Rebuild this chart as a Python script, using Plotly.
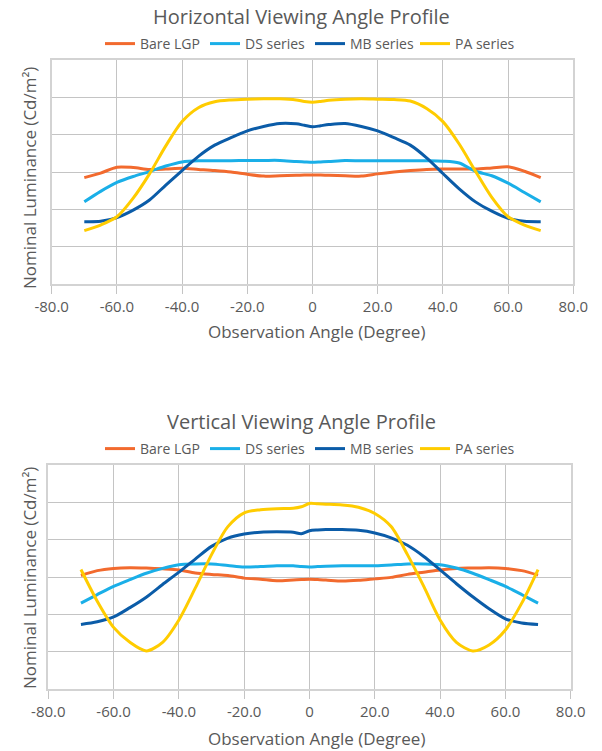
import plotly.graph_objects as go

angles = [-70, -65, -60, -55, -50, -45, -40, -35, -30, -25, -20, -15, -10, -5, -2.5,
          0, 2.5, 5, 10, 15, 20, 25, 30, 35, 40, 45, 50, 55, 60, 65, 70]

# Horizontal profile
h_bare = [2.85, 2.97, 3.13, 3.12, 3.07, 3.08, 3.10, 3.07, 3.04, 3.00, 2.94, 2.89, 2.90, 2.91, 2.92,
          2.92, 2.92, 2.91, 2.90, 2.89, 2.95, 3.00, 3.04, 3.07, 3.08, 3.08, 3.08, 3.11, 3.14, 3.02, 2.85]
h_ds = [2.20, 2.48, 2.72, 2.88, 3.01, 3.16, 3.27, 3.30, 3.30, 3.30, 3.31, 3.31, 3.31, 3.28, 3.27,
        3.26, 3.27, 3.28, 3.31, 3.30, 3.30, 3.30, 3.30, 3.30, 3.29, 3.24, 3.02, 2.90, 2.70, 2.45, 2.20]
h_mb = [1.67, 1.68, 1.78, 1.98, 2.25, 2.65, 3.04, 3.42, 3.72, 3.92, 4.10, 4.22, 4.30, 4.29, 4.25,
        4.21, 4.24, 4.27, 4.30, 4.22, 4.10, 3.92, 3.72, 3.38, 2.96, 2.55, 2.20, 1.95, 1.76, 1.68, 1.67]
h_pa = [1.43, 1.58, 1.80, 2.30, 2.95, 3.70, 4.35, 4.72, 4.88, 4.93, 4.95, 4.96, 4.96, 4.93, 4.89,
        4.87, 4.89, 4.92, 4.95, 4.96, 4.95, 4.94, 4.90, 4.70, 4.35, 3.75, 3.02, 2.32, 1.80, 1.58, 1.43]

# Vertical profile
v_bare = [3.04, 3.17, 3.23, 3.25, 3.24, 3.22, 3.19, 3.11, 3.07, 3.04, 2.97, 2.94, 2.90, 2.92, 2.93,
          2.94, 2.93, 2.92, 2.89, 2.91, 2.95, 2.99, 3.07, 3.13, 3.19, 3.23, 3.24, 3.25, 3.23, 3.17, 3.05]
v_ds = [2.30, 2.53, 2.75, 2.93, 3.10, 3.23, 3.33, 3.35, 3.35, 3.31, 3.27, 3.28, 3.30, 3.30, 3.28,
        3.27, 3.28, 3.29, 3.30, 3.30, 3.30, 3.32, 3.35, 3.35, 3.33, 3.24, 3.10, 2.93, 2.75, 2.53, 2.30]
v_mb = [1.73, 1.80, 1.93, 2.18, 2.46, 2.80, 3.13, 3.48, 3.82, 4.04, 4.15, 4.20, 4.21, 4.20, 4.16,
        4.24, 4.26, 4.27, 4.27, 4.25, 4.18, 4.05, 3.85, 3.55, 3.19, 2.82, 2.47, 2.15, 1.88, 1.77, 1.73]
v_pa = [3.20, 2.35, 1.65, 1.25, 1.02, 1.25, 1.85, 2.70, 3.60, 4.35, 4.72, 4.80, 4.83, 4.84, 4.88,
        4.97, 4.96, 4.95, 4.93, 4.87, 4.70, 4.35, 3.60, 2.75, 1.85, 1.25, 1.02, 1.18, 1.58, 2.30, 3.20]

series_names = ["Bare LGP", "DS series", "MB series", "PA series"]
colors = ["#F26A2E", "#1AAFE8", "#0B5CA8", "#FFCC00"]

tick_vals = [-80, -60, -40, -20, 0, 20, 40, 60, 80]
tick_text = ["-80.0", "-60.0", "-40.0", "-20.0", "0", "20.0", "40.0", "60.0", "80.0"]

titles = ["Horizontal Viewing Angle Profile", "Vertical Viewing Angle Profile"]
x_title = "Observation Angle (Degree)"
y_title = "Nominal Luminance (Cd/m²)"

W, H = 602, 751
FONT = "Open Sans, Noto Sans, sans-serif"
TXT = "#595959"

def px_x(p):
    return p / W

def px_y(p):
    return (H - p) / H

fig = go.Figure()

panels = [
    dict(data=[h_bare, h_ds, h_mb, h_pa], x0=51.7, x1=573.3, y0=60, y1=284,
         title_y=16, legend_y=44, xt_y=331, yt_y=178, xa="x", ya="y", leg="legend"),
    dict(data=[v_bare, v_ds, v_mb, v_pa], x0=48.3, x1=570.7, y0=465, y1=689,
         title_y=421, legend_y=449, xt_y=738, yt_y=578, xa="x2", ya="y2", leg="legend2"),
]

for i, p in enumerate(panels):
    for name, col, vals in zip(series_names, colors, p["data"]):
        fig.add_trace(go.Scatter(
            x=angles, y=vals, name=name, mode="lines",
            line=dict(color=col, width=3, shape="spline", smoothing=0.8),
            xaxis=p["xa"], yaxis=p["ya"], legend=p["leg"],
        ))
    sfx = "" if i == 0 else "2"
    axis_common = dict(showgrid=True, gridcolor="#C4C4C4", gridwidth=1,
                       showline=True, linecolor="#D3D3D3", linewidth=2, mirror=True,
                       zeroline=False)
    fig.layout["xaxis" + sfx] = dict(
        domain=[px_x(p["x0"]), px_x(p["x1"])], range=[-80, 80],
        tickvals=tick_vals, ticktext=tick_text, ticks="outside", ticklen=8,
        tickcolor="#C4C4C4", tickfont=dict(family=FONT, size=15, color=TXT),
        anchor="y" + sfx, **axis_common)
    fig.layout["yaxis" + sfx] = dict(
        domain=[px_y(p["y1"]), px_y(p["y0"])], range=[0, 6], dtick=1,
        showticklabels=False, anchor="x" + sfx, **axis_common)
    fig.layout[p["leg"]] = dict(
        orientation="h", x=px_x(310), xanchor="center", y=px_y(p["legend_y"]), yanchor="middle",
        font=dict(family=FONT, size=14, color=TXT), bgcolor="rgba(0,0,0,0)",
        entrywidth=60, entrywidthmode="pixels", itemwidth=30, tracegroupgap=0)
    fig.add_annotation(text=titles[i], x=px_x(301), y=px_y(p["title_y"]), xref="paper", yref="paper",
                       xanchor="center", yanchor="middle", showarrow=False,
                       font=dict(family=FONT, size=20, color=TXT))
    fig.add_annotation(text=x_title, x=px_x(316), y=px_y(p["xt_y"]),
                       xref="paper", yref="paper", xanchor="center", yanchor="middle",
                       showarrow=False, font=dict(family=FONT, size=17, color=TXT))
    fig.add_annotation(text=y_title, x=px_x(29), y=px_y(p["yt_y"]),
                       xref="paper", yref="paper", xanchor="center", yanchor="middle",
                       textangle=-90, showarrow=False,
                       font=dict(family=FONT, size=17, color=TXT))

fig.update_layout(width=W, height=H, margin=dict(l=0, r=0, t=0, b=0, autoexpand=False),
                  paper_bgcolor="white", plot_bgcolor="white", showlegend=True)

fig.write_html("out.html", config={"displayModeBar": False},
               post_script="document.body.style.margin='0';document.body.style.overflow='hidden';")
